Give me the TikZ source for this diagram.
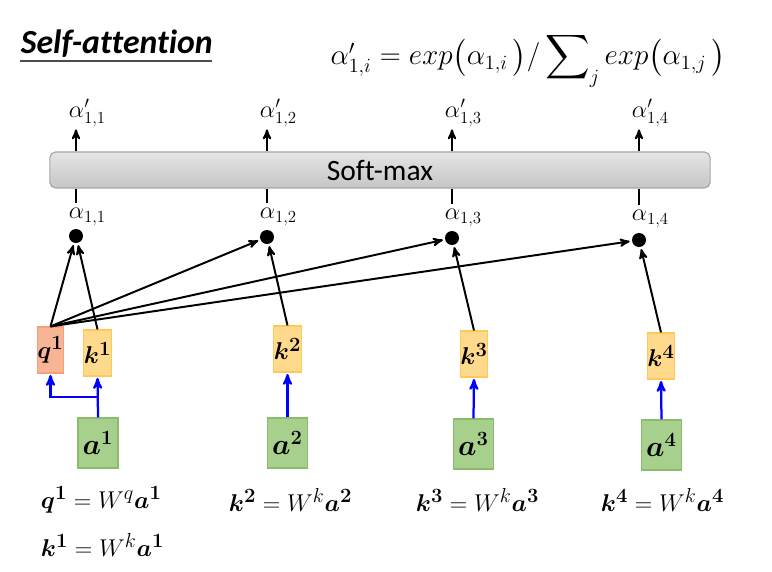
\documentclass[tikz,border=0pt]{standalone}
\usepackage{amsmath,amssymb,bm}
\usepackage{fontspec}
\setmainfont{Carlito}[Ligatures=NoCommon]
\usepackage{xcolor}
\usetikzlibrary{arrows}

\definecolor{qfill}{HTML}{F8B595}
\definecolor{qline}{HTML}{F4A07A}
\definecolor{kfill}{HTML}{FFD98C}
\definecolor{kline}{HTML}{FFC858}
\definecolor{afill}{HTML}{A8D08D}
\definecolor{aline}{HTML}{8CBB6E}

\begin{document}
\begin{tikzpicture}[->,>=stealth',shorten >=1pt,x=0.025cm,y=-0.025cm,line width=1.4pt,
	q node/.style={draw=qline,fill=qfill,line width=0.8pt,minimum width=0.625cm,minimum height=1.15cm,inner sep=0pt,font=\fontsize{19}{22}\selectfont},
	k node/.style={q node,draw=kline,fill=kfill},
	a node/.style={draw=aline,fill=afill,line width=0.8pt,minimum width=1cm,minimum height=1.25cm,inner sep=0pt,font=\fontsize{22}{26}\selectfont},
	dot node/.style={circle,fill=black,inner sep=0pt,minimum size=0.35cm},
	alpha node/.style={inner sep=0pt,font=\fontsize{18}{21}\selectfont},
	eq node/.style={anchor=west,inner sep=0pt,font=\fontsize{19}{23}\selectfont},
	blue arrow/.style={blue,line width=1.6pt}]

	\useasboundingbox (0,0) rectangle (772,572);

	% heading and formula
	\node[anchor=base west,inner sep=0pt,font=\fontsize{24}{29}\selectfont\bfseries\itshape] (title) at (20,53) {Self-attention};
	\draw[-,line width=1pt,black!70] ([yshift=-5.7pt]title.base west) -- ([yshift=-5.7pt]title.base east);
	\node[inner sep=0pt,font=\fontsize{22}{27}\selectfont] (f) at (528,60)
		{$\alpha'_{1,i} = exp\big(\alpha_{1,i}\,\big)/\displaystyle\sum\nolimits_j exp\big(\alpha_{1,j}\,\big)$};

	% soft-max
	\node[draw=gray!70,line width=0.8pt,top color=gray!20,bottom color=gray!45,rounded corners=4pt,minimum width=16.5cm,minimum height=0.9cm,font=\fontsize{21}{25}\selectfont] (s) at (380,170) {Soft-max};

	\node[dot node] (d1) at (76,236) {};
	\node[dot node] (d2) at (267,237) {};
	\node[dot node] (d3) at (452,238) {};
	\node[dot node] (d4) at (639,240) {};

	\node[alpha node,anchor=north west] (b1) at (68,207) {$\alpha_{1,1}$};
	\node[alpha node,anchor=north west] (b2) at (259,207) {$\alpha_{1,2}$};
	\node[alpha node,anchor=north west] (b3) at (444,208) {$\alpha_{1,3}$};
	\node[alpha node,anchor=north west] (b4) at (631,209) {$\alpha_{1,4}$};

	\node[alpha node,anchor=south west] (p1) at (68,128) {$\alpha'_{1,1}$};
	\node[alpha node,anchor=south west] (p2) at (259,128) {$\alpha'_{1,2}$};
	\node[alpha node,anchor=south west] (p3) at (444,128) {$\alpha'_{1,3}$};
	\node[alpha node,anchor=south west] (p4) at (631,128) {$\alpha'_{1,4}$};

	% q, k and a
	\node[q node] (q1) at (50.5,350) {$\bm{q}^{\bm{1}}$};
	\node[k node] (k1) at (97.5,353) {$\bm{k}^{\bm{1}}$};
	\node[k node] (k2) at (287.5,349) {$\bm{k}^{\bm{2}}$};
	\node[k node] (k3) at (474,354) {$\bm{k}^{\bm{3}}$};
	\node[k node] (k4) at (661,356) {$\bm{k}^{\bm{4}}$};

	\node[a node] (a1) at (98,443) {$\bm{a}^{\bm{1}}$};
	\node[a node] (a2) at (287.5,443) {$\bm{a}^{\bm{2}}$};
	\node[a node] (a3) at (473.5,444) {$\bm{a}^{\bm{3}}$};
	\node[a node] (a4) at (661.5,445) {$\bm{a}^{\bm{4}}$};
	\coordinate (j1) at (98,397);

	\node[eq node] (e1) at (40,500) {$\bm{q}^{\bm{1}} = W^q\bm{a}^{\bm{1}}$};
	\node[eq node] (e2) at (228,500) {$\bm{k}^{\bm{2}} = W^k\bm{a}^{\bm{2}}$};
	\node[eq node] (e3) at (415,500) {$\bm{k}^{\bm{3}} = W^k\bm{a}^{\bm{3}}$};
	\node[eq node] (e4) at (600,500) {$\bm{k}^{\bm{4}} = W^k\bm{a}^{\bm{4}}$};
	\node[eq node] (e5) at (40,545) {$\bm{k}^{\bm{1}} = W^k\bm{a}^{\bm{1}}$};

	\path
	(s.north -| d1) edge (p1.south -| d1)
	(s.north -| d2) edge (p2.south -| d2)
	(s.north -| d3) edge (p3.south -| d3)
	(s.north -| d4) edge (p4.south -| d4)
	(s.south -| d1) edge[-,shorten >=3pt] (b1.north -| d1)
	(s.south -| d2) edge[-,shorten >=3pt] (b2.north -| d2)
	(s.south -| d3) edge[-,shorten >=3pt] (b3.north -| d3)
	(s.south -| d4) edge[-,shorten >=3pt] (b4.north -| d4)
	(q1.north) edge (d1)
	(k1.north) edge (d1)
	(q1.north) edge (d2)
	(k2.north) edge (d2)
	(q1.north) edge (d3)
	(k3.north) edge (d3)
	(q1.north) edge (d4)
	(k4.north) edge (d4);

	\draw[blue arrow] (a1.north) -- (k1.south);
	\draw[blue arrow] (j1) -| (q1.south);
	\draw[blue arrow] (a2.north) -- (k2.south);
	\draw[blue arrow] (a3.north) -- (k3.south);
	\draw[blue arrow] (a4.north) -- (k4.south);
\end{tikzpicture}
\end{document}
